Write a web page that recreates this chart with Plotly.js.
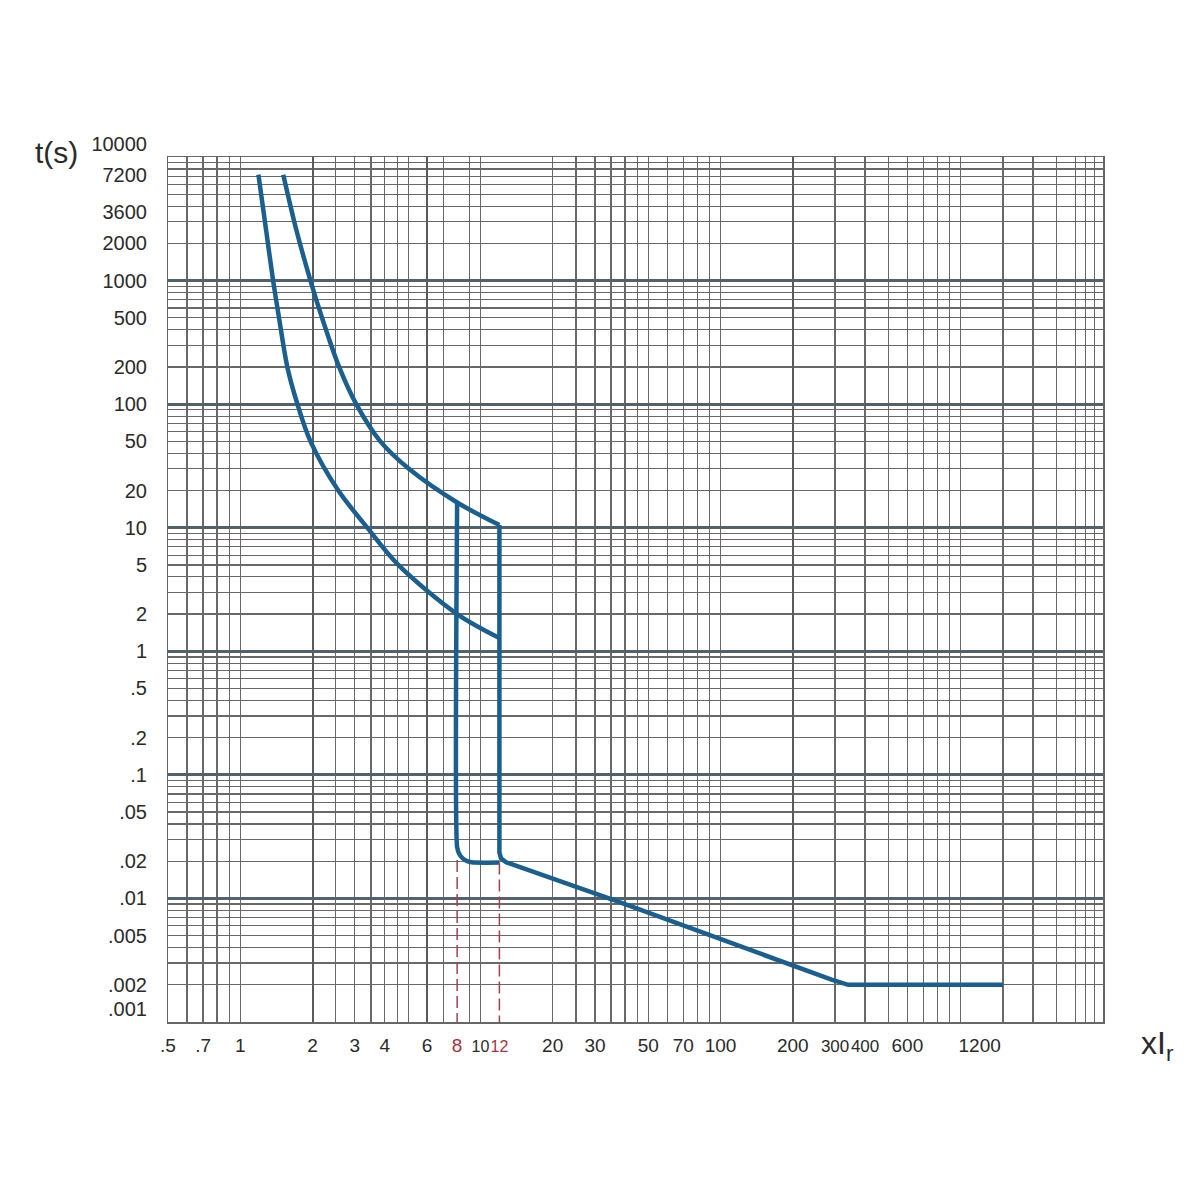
<!DOCTYPE html>
<html>
<head>
<meta charset="utf-8">
<script src="https://cdn.plot.ly/plotly-3.0.1.min.js"></script>
<style>html,body{margin:0;padding:0;background:#fff}#chart{width:1200px;height:1200px}</style>
</head>
<body>
<div id="chart"></div>
<script>
// ---- data ----
// upper (max) thermal curve: multiple of Ir vs trip time (s)
const upperX = [1.51, 1.71, 1.96, 2.19, 2.58, 3.04, 3.83, 5.1, 8, 12];
const upperT = [7200, 2590, 1000, 500, 200, 100, 50, 29.4, 16, 10.5];
// lower (min) thermal curve
const lowerX = [1.19, 1.28, 1.37, 1.45, 1.57, 1.73, 1.96, 2.56, 3.38, 4.55, 8, 12];
const lowerT = [7200, 2590, 1000, 500, 200, 100, 50, 20, 10, 5, 2.0, 1.28];
// instantaneous trip at 8 x Ir (min)
const inst8X = [8, 8, 8.2, 8.6, 9.2, 12];
const inst8T = [16, 0.026, 0.0225, 0.0205, 0.0196, 0.0195];
// instantaneous trip at 12 x Ir (max) and short-circuit tail
const inst12X = [12, 12, 12.2, 12.8, 36, 133, 290, 340, 1500];
const inst12T = [10.5, 0.0235, 0.021, 0.0196, 0.0097, 0.0038, 0.0022, 0.002, 0.002];
// dashed markers down to the axis
const dash8X = [8, 8];
const dash8T = [0.0205, 0.001];
const dash12X = [12, 12];
const dash12T = [0.0195, 0.001];

// axis ticks
const xTickVals = [0.5, 0.7, 1, 2, 3, 4, 6, 8, 10, 12, 20, 30, 50, 70, 100, 200, 300, 400, 600, 1200];
const xTickText = ['.5', '.7', '1', '2', '3', '4', '6', '<span style="color:#a8323e">8</span>',
  '<span style="font-size:16px">10</span>', '<span style="color:#a8323e;font-size:16px">12</span>',
  '20', '30', '50', '70', '100', '200',
  '<span style="font-size:17px">300</span>', '<span style="font-size:17px">400</span>', '600', '1200'];
const yTickVals = [10000, 7200, 3600, 2000, 1000, 500, 200, 100, 50, 20, 10, 5, 2, 1, 0.5, 0.2, 0.1, 0.05, 0.02, 0.01, 0.005, 0.002, 0.001];
const yTickText = ['10000<br>&#160;', '7200', '3600', '2000', '1000', '500', '200', '100', '50', '20', '10', '5', '2', '1',
  '.5', '.2', '.1', '.05', '.02', '.01', '.005', '.002', '.001<br>&#160;'];
// grid lines
const xMajorGrid = [2, 6, 200];
const xMinorGrid = [0.6, 0.7, 0.8, 0.9, 1, 2.5, 3, 3.5, 4, 4.5, 5, 7, 9, 10, 20, 25, 30, 35, 40, 45, 50, 60, 70, 80, 90, 100,
  300, 400, 500, 600, 700, 800, 900, 1000, 1500, 2000, 2500, 3000, 3300, 3600];
const yDecadeGrid = [0.001, 0.01, 0.1, 1, 10, 100, 1000, 10000];

const curveColor = '#1b5f8e';
const dashColor = '#a6404b';
const xRange = [Math.log10(0.5), Math.log10(3917)];
const yRange = [-3, 4];

const traces = [
  {x: upperX, y: upperT, mode: 'lines', line: {color: curveColor, width: 4.5, shape: 'spline', smoothing: 0.9}, xaxis: 'x', yaxis: 'y', hoverinfo: 'skip'},
  {x: lowerX, y: lowerT, mode: 'lines', line: {color: curveColor, width: 4.5, shape: 'spline', smoothing: 0.9}, xaxis: 'x', yaxis: 'y', hoverinfo: 'skip'},
  {x: inst8X, y: inst8T, mode: 'lines', line: {color: curveColor, width: 4.5, shape: 'spline', smoothing: 0.5}, xaxis: 'x', yaxis: 'y', hoverinfo: 'skip'},
  {x: inst12X, y: inst12T, mode: 'lines', line: {color: curveColor, width: 4.5}, xaxis: 'x', yaxis: 'y', hoverinfo: 'skip'},
  {x: dash8X, y: dash8T, mode: 'lines', line: {color: dashColor, width: 1.5, dash: '12px,5px'}, xaxis: 'x2', yaxis: 'y2', hoverinfo: 'skip'},
  {x: dash12X, y: dash12T, mode: 'lines', line: {color: dashColor, width: 1.5, dash: '12px,5px'}, xaxis: 'x2', yaxis: 'y2', hoverinfo: 'skip'}
];

const labelFamily = 'Liberation Sans, Arial, sans-serif';
const tickFont = {family: labelFamily, size: 20, color: '#2a2a2a'};
const xTickFont = {family: labelFamily, size: 19, color: '#2a2a2a'};
const gridColor = '#686868';

const layout = {
  width: 1200, height: 1200,
  margin: {l: 168, r: 97, t: 157, b: 178},
  paper_bgcolor: '#ffffff', plot_bgcolor: '#ffffff',
  showlegend: false,
  xaxis: {
    type: 'log', range: xRange, showticklabels: false, ticks: '', automargin: false,
    tickmode: 'array', tickvals: xMajorGrid,
    showgrid: true, gridcolor: '#5a5a5a', gridwidth: 2,
    minor: {tickmode: 'array', tickvals: xMinorGrid, showgrid: true, gridcolor: gridColor, gridwidth: 1.2, ticks: ''},
    showline: true, mirror: true, linecolor: '#666666', linewidth: 1.5, zeroline: false
  },
  yaxis: {
    type: 'log', range: yRange, showticklabels: false, ticks: '', automargin: false,
    tickmode: 'array', tickvals: yDecadeGrid,
    showgrid: true, gridcolor: '#53616d', gridwidth: 3,
    minor: {dtick: 'D1', showgrid: true, gridcolor: gridColor, gridwidth: 1.2, ticks: ''},
    showline: true, mirror: true, linecolor: '#666666', linewidth: 1.5, zeroline: false
  },
  xaxis2: {
    type: 'log', range: xRange, overlaying: 'x', anchor: 'y2', side: 'bottom', automargin: false,
    tickmode: 'array', tickvals: xTickVals, ticktext: xTickText, tickangle: 0,
    showgrid: false, ticks: '', tickfont: xTickFont, ticklabelstandoff: 10, zeroline: false
  },
  yaxis2: {
    type: 'log', range: yRange, overlaying: 'y', anchor: 'x2', side: 'left', automargin: false,
    tickmode: 'array', tickvals: yTickVals, ticktext: yTickText, tickangle: 0,
    showgrid: false, ticks: '', tickfont: tickFont, ticklabelstandoff: 20, zeroline: false
  },
  annotations: [
    {text: 't(s)', xref: 'paper', yref: 'paper', x: -0.094, y: 1.005, xanchor: 'right', yanchor: 'middle', showarrow: false,
     font: {family: labelFamily, size: 30, color: '#2a2a2a'}},
    {text: 'xI<sub>r</sub>', xref: 'paper', yref: 'paper', x: 1.038, y: -0.027, xanchor: 'left', yanchor: 'middle', showarrow: false,
     font: {family: labelFamily, size: 32, color: '#2a2a2a'}}
  ]
};

Plotly.newPlot('chart', traces, layout, {staticPlot: true, displayModeBar: false});
</script>
</body>
</html>
